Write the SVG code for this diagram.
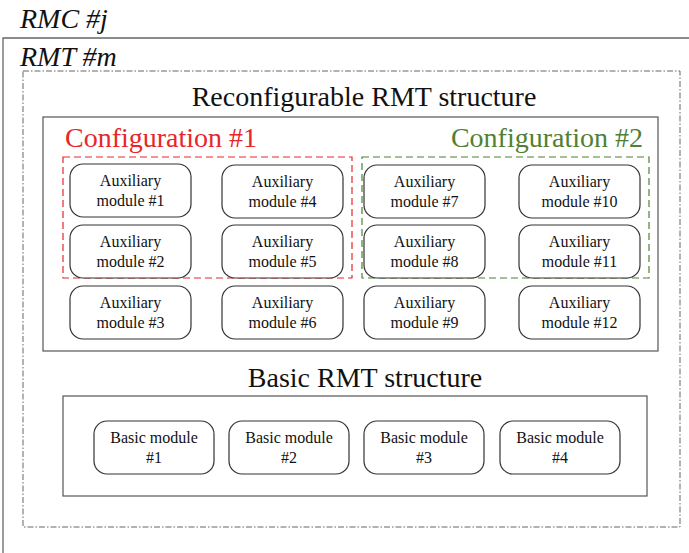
<svg xmlns="http://www.w3.org/2000/svg" width="689" height="553" viewBox="0 0 689 553">
<style>
.t{font-family:"Liberation Serif","Times New Roman",serif;fill:#111}
.it{font-style:italic;font-size:28px}
.h{font-size:28px;text-anchor:middle}
.m{font-size:16px;text-anchor:middle}
.mod{fill:#fff;stroke:#333;stroke-width:1.2}
.box{fill:none;stroke:#555;stroke-width:1.2}
</style>
<rect width="689" height="553" fill="#fff"/>
<g id="rmc">
<path d="M3 553V38H689" fill="none" stroke="#666" stroke-width="1.3"/>
<text class="t it" x="20" y="28">RMC #j</text>
</g>
<g id="rmt">
<rect x="23" y="71" width="657" height="456" fill="none" stroke="#666" stroke-width="1" stroke-dasharray="6 2 1.5 2"/>
<text class="t it" x="20" y="66">RMT #m</text>
</g>
<g id="reconfigurable">
<text class="t h" x="364" y="106">Reconfigurable RMT structure</text>
<rect class="box" x="43" y="117" width="615" height="234"/>
</g>
<g id="config1">
<text class="t" x="65" y="147" font-size="28" style="fill:#e8262a">Configuration #1</text>
<rect x="63" y="157" width="289" height="121" fill="none" stroke="#e8262a" stroke-width="1.2" stroke-dasharray="7 4"/>
</g>
<g id="config2">
<text class="t" x="643" y="147" font-size="28" text-anchor="end" style="fill:#4f8033">Configuration #2</text>
<rect x="362" y="157" width="287" height="121" fill="none" stroke="#4f8033" stroke-width="1.2" stroke-dasharray="7 4"/>
</g>
<g id="aux1"><rect class="mod" x="70" y="164" width="121" height="53" rx="13"/><text class="t m" x="130.5" y="186">Auxiliary</text><text class="t m" x="130.5" y="206">module #1</text></g>
<g id="aux2"><rect class="mod" x="70" y="225" width="121" height="53" rx="13"/><text class="t m" x="130.5" y="247">Auxiliary</text><text class="t m" x="130.5" y="267">module #2</text></g>
<g id="aux3"><rect class="mod" x="70" y="286" width="121" height="53" rx="13"/><text class="t m" x="130.5" y="308">Auxiliary</text><text class="t m" x="130.5" y="328">module #3</text></g>
<g id="aux4"><rect class="mod" x="222" y="165" width="121" height="53" rx="13"/><text class="t m" x="282.5" y="187">Auxiliary</text><text class="t m" x="282.5" y="207">module #4</text></g>
<g id="aux5"><rect class="mod" x="222" y="225" width="121" height="53" rx="13"/><text class="t m" x="282.5" y="247">Auxiliary</text><text class="t m" x="282.5" y="267">module #5</text></g>
<g id="aux6"><rect class="mod" x="222" y="286" width="121" height="53" rx="13"/><text class="t m" x="282.5" y="308">Auxiliary</text><text class="t m" x="282.5" y="328">module #6</text></g>
<g id="aux7"><rect class="mod" x="364" y="165" width="121" height="53" rx="13"/><text class="t m" x="424.5" y="187">Auxiliary</text><text class="t m" x="424.5" y="207">module #7</text></g>
<g id="aux8"><rect class="mod" x="364" y="225" width="121" height="53" rx="13"/><text class="t m" x="424.5" y="247">Auxiliary</text><text class="t m" x="424.5" y="267">module #8</text></g>
<g id="aux9"><rect class="mod" x="364" y="286" width="121" height="53" rx="13"/><text class="t m" x="424.5" y="308">Auxiliary</text><text class="t m" x="424.5" y="328">module #9</text></g>
<g id="aux10"><rect class="mod" x="519" y="165" width="121" height="53" rx="13"/><text class="t m" x="579.5" y="187">Auxiliary</text><text class="t m" x="579.5" y="207">module #10</text></g>
<g id="aux11"><rect class="mod" x="519" y="225" width="121" height="53" rx="13"/><text class="t m" x="579.5" y="247">Auxiliary</text><text class="t m" x="579.5" y="267">module #11</text></g>
<g id="aux12"><rect class="mod" x="519" y="286" width="121" height="53" rx="13"/><text class="t m" x="579.5" y="308">Auxiliary</text><text class="t m" x="579.5" y="328">module #12</text></g>
<g id="basic">
<text class="t h" x="365" y="387">Basic RMT structure</text>
<rect class="box" x="63" y="396" width="584" height="100"/>
</g>
<g id="basic1"><rect class="mod" x="94" y="421" width="120" height="53" rx="13"/><text class="t m" x="154" y="443">Basic module</text><text class="t m" x="154" y="463">#1</text></g>
<g id="basic2"><rect class="mod" x="229" y="421" width="120" height="53" rx="13"/><text class="t m" x="289" y="443">Basic module</text><text class="t m" x="289" y="463">#2</text></g>
<g id="basic3"><rect class="mod" x="364" y="421" width="120" height="53" rx="13"/><text class="t m" x="424" y="443">Basic module</text><text class="t m" x="424" y="463">#3</text></g>
<g id="basic4"><rect class="mod" x="500" y="421" width="120" height="53" rx="13"/><text class="t m" x="560" y="443">Basic module</text><text class="t m" x="560" y="463">#4</text></g>
<g id="connectors"></g>
</svg>
